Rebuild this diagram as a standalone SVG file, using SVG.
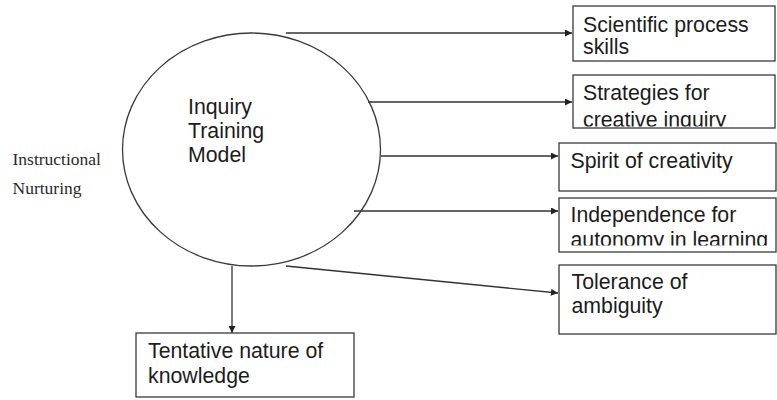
<svg xmlns="http://www.w3.org/2000/svg" width="777" height="400" viewBox="0 0 777 400">
  <style>
    .box { fill: #ffffff; stroke: #3a3a3a; stroke-width: 1.3; }
    .lbl { font-family: "Liberation Sans", Arial, sans-serif; font-size: 21.3px; fill: #1c1c1c; }
    .side { font-family: "Liberation Serif", "Times New Roman", serif; font-size: 17.5px; fill: #2a2a2a; }
    .conn { stroke: #333333; stroke-width: 1.3; fill: none; }
  </style>
  <defs>
    <marker id="arr" viewBox="0 0 10 10" refX="10" refY="5" markerWidth="8" markerHeight="7" markerUnits="userSpaceOnUse" orient="auto">
      <path d="M0,0 L10,5 L0,10 Z" fill="#222222"/>
    </marker>
    <clipPath id="clip2"><rect x="574" y="76" width="200" height="50.5"/></clipPath>
    <clipPath id="clip4"><rect x="560" y="199" width="215" height="46.5"/></clipPath>
  </defs>
  <rect width="777" height="400" fill="#ffffff"/>

  <g id="side-label">
    <text class="side" x="12.5" y="165">Instructional</text>
    <text class="side" x="12.5" y="193.5">Nurturing</text>
  </g>

  <g id="connectors">
    <line class="conn" x1="286" y1="33" x2="572" y2="33" marker-end="url(#arr)"/>
    <line class="conn" x1="368" y1="102" x2="572" y2="102" marker-end="url(#arr)"/>
    <line class="conn" x1="381" y1="156" x2="558" y2="156" marker-end="url(#arr)"/>
    <line class="conn" x1="354" y1="211" x2="558" y2="211" marker-end="url(#arr)"/>
    <line class="conn" x1="286" y1="266" x2="558" y2="293" marker-end="url(#arr)"/>
    <line class="conn" x1="232" y1="266" x2="232" y2="333" marker-end="url(#arr)"/>
  </g>

  <g id="inquiry-model">
    <ellipse cx="251.5" cy="149.5" rx="129" ry="116.5" fill="none" stroke="#3a3a3a" stroke-width="1.3"/>
    <text class="lbl" x="188" y="114">Inquiry</text>
    <text class="lbl" x="188" y="138">Training</text>
    <text class="lbl" x="188" y="162">Model</text>
  </g>

  <g id="node-scientific">
    <rect class="box" x="573" y="6" width="202" height="55"/>
    <text class="lbl" x="583" y="31.5">Scientific process</text>
    <text class="lbl" x="583" y="54">skills</text>
  </g>

  <g id="node-strategies">
    <rect class="box" x="573" y="75" width="202" height="53"/>
    <g clip-path="url(#clip2)">
      <text class="lbl" x="583" y="99.5">Strategies for</text>
      <text class="lbl" x="583" y="126.5">creative inquiry</text>
    </g>
  </g>

  <g id="node-spirit">
    <rect class="box" x="559" y="143" width="217" height="48"/>
    <text class="lbl" x="570.5" y="167.5">Spirit of creativity</text>
  </g>

  <g id="node-independence">
    <rect class="box" x="559" y="198" width="217" height="54"/>
    <g clip-path="url(#clip4)">
      <text class="lbl" x="570.5" y="221.5">Independence for</text>
      <text class="lbl" x="570.5" y="247">autonomy in learning</text>
    </g>
  </g>

  <g id="node-tolerance">
    <rect class="box" x="559" y="265" width="217" height="69"/>
    <text class="lbl" x="571.5" y="288.5">Tolerance of</text>
    <text class="lbl" x="571.5" y="312.5">ambiguity</text>
  </g>

  <g id="node-tentative">
    <rect class="box" x="136" y="333" width="218" height="64"/>
    <text class="lbl" x="148" y="358">Tentative nature of</text>
    <text class="lbl" x="148" y="382.5">knowledge</text>
  </g>
</svg>
